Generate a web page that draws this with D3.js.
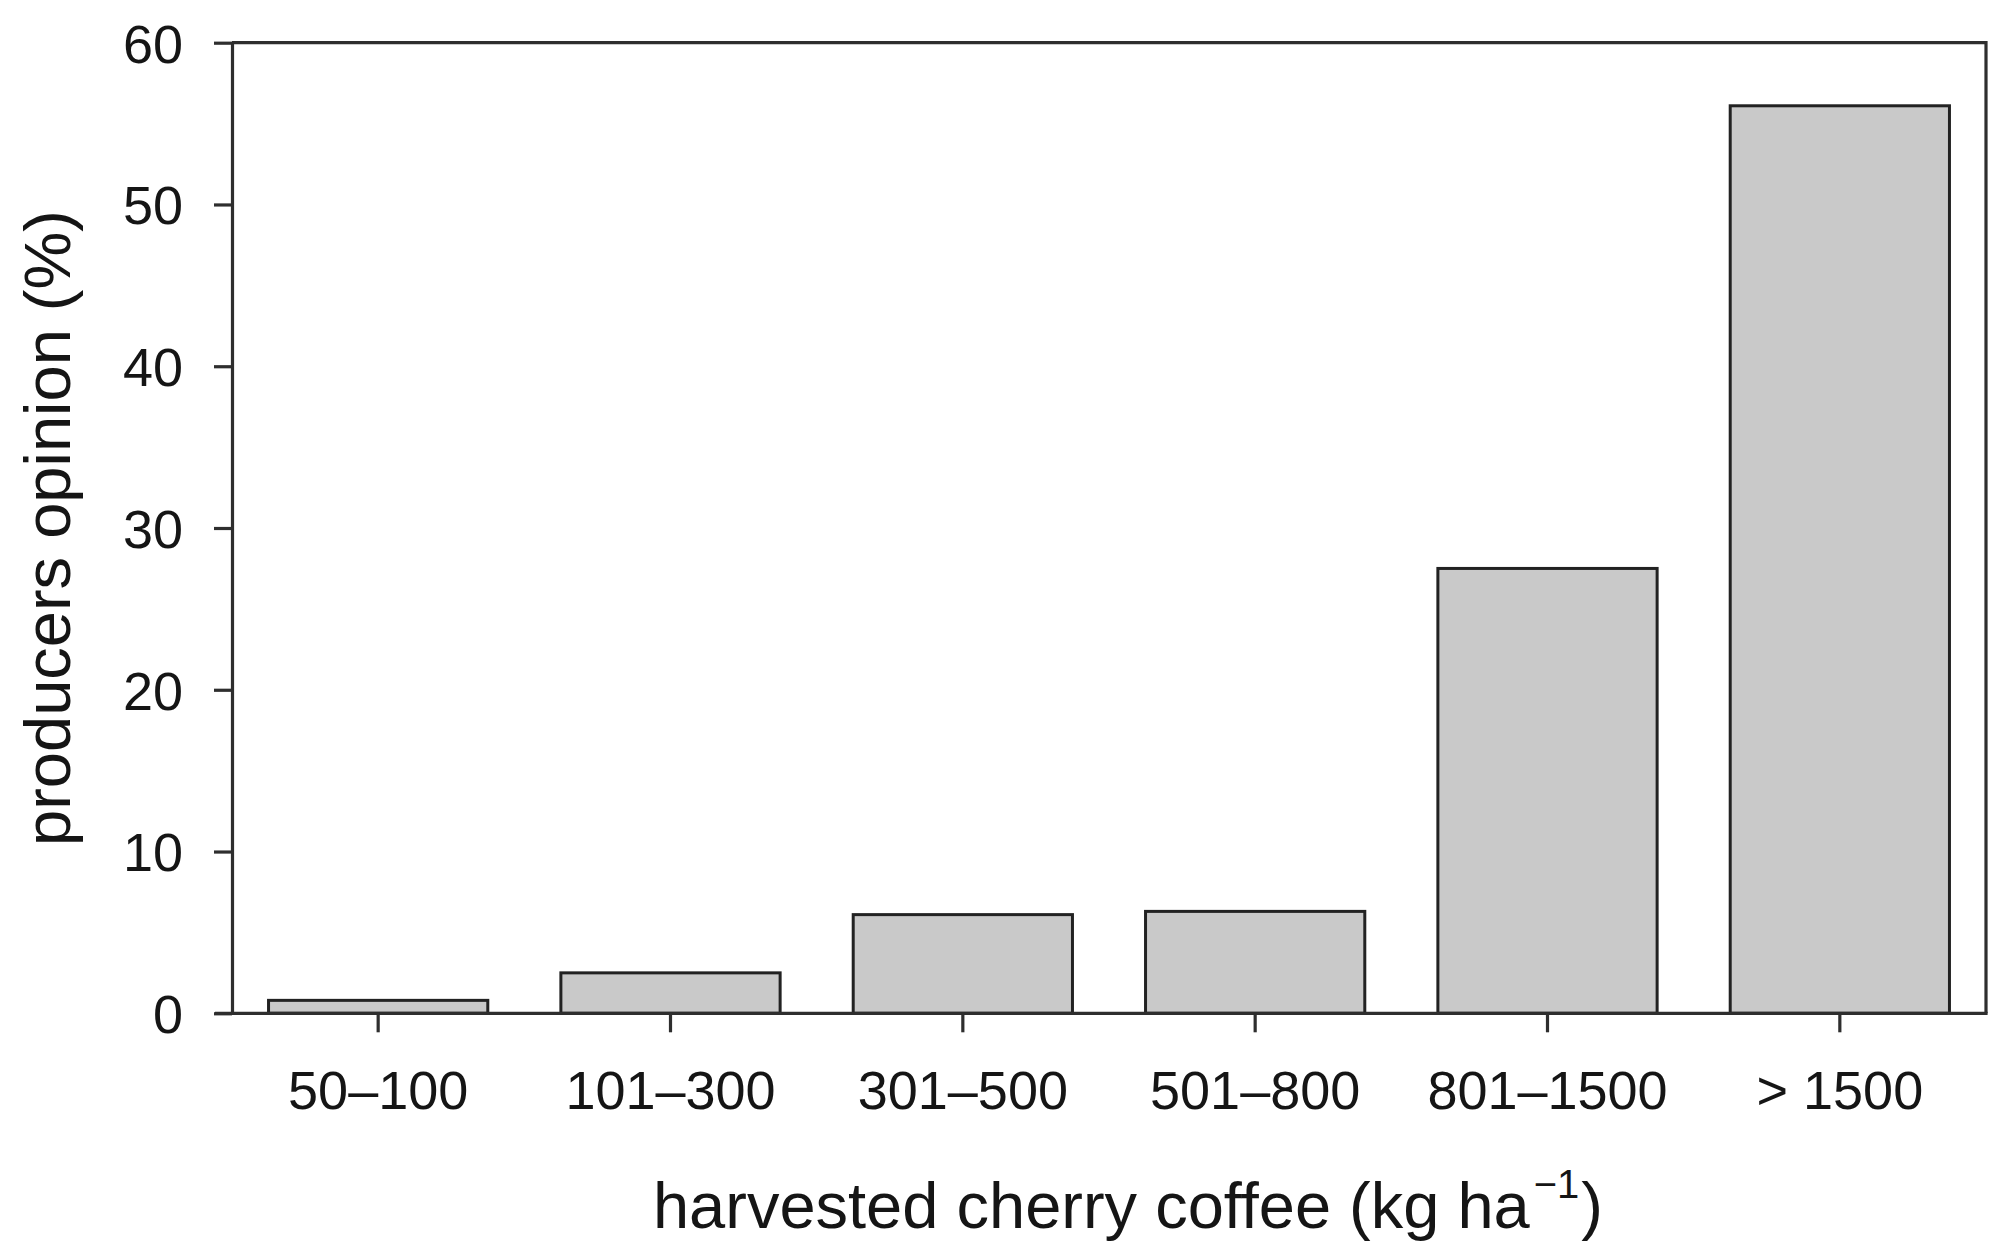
<!DOCTYPE html>
<html>
<head>
<meta charset="utf-8">
<script src="https://cdn.jsdelivr.net/npm/d3@7"></script>
<style>
  html, body { margin: 0; padding: 0; background: #fff; }
  svg { display: block; }
  text { font-family: "Liberation Sans", Arial, sans-serif; fill: #151515; }
</style>
</head>
<body>
<svg id="chart" width="2015" height="1259"></svg>
<script>
const categories = ["50–100", "101–300", "301–500", "501–800", "801–1500", "> 1500"];
const values = [0.8, 2.5, 6.1, 6.3, 27.5, 56.1];
const yTicks = [0, 10, 20, 30, 40, 50, 60];
const yTitle = "producers opinion (%)";
const xTitleMain = "harvested cherry coffee (kg ha";
const xTitleSup = "−1";
const xTitleEnd = ")";

(function () {
  const svg = d3.select("#chart");
  const pLeft = 232, pRight = 1986, pTop = 42.7, pBottom = 1013.3;
  const axisColor = "#2e2e2e";

  const x = d3.scaleBand().domain(categories).range([pLeft, pRight])
    .paddingInner(0.25).paddingOuter(0.125);
  const y = d3.scaleLinear().domain([0, 60]).range([pBottom, pTop]);

  // bars
  svg.append("g").selectAll("rect")
    .data(values)
    .join("rect")
    .attr("x", (d, i) => x(categories[i]))
    .attr("width", x.bandwidth())
    .attr("y", d => y(d))
    .attr("height", d => y(0) - y(d))
    .attr("fill", "#c9c9c9")
    .attr("stroke", "#222")
    .attr("stroke-width", 3);

  // frame top & right
  svg.append("line").attr("x1", pLeft).attr("x2", pRight).attr("y1", y(60)).attr("y2", y(60))
    .attr("stroke", axisColor).attr("stroke-width", 3.2);
  svg.append("line").attr("x1", pRight).attr("x2", pRight).attr("y1", y(60) - 1.6).attr("y2", y(0))
    .attr("stroke", axisColor).attr("stroke-width", 3.2);

  // y axis
  const yAxis = svg.append("g").attr("transform", `translate(${pLeft},0)`)
    .call(d3.axisLeft(y).tickValues(yTicks).tickSizeInner(18).tickSizeOuter(0).tickPadding(31));
  yAxis.selectAll("path, line").attr("stroke", axisColor).attr("stroke-width", 3.2);
  yAxis.selectAll("text").attr("font-size", 54).attr("dy", "0.36em")
    .style("font-family", "'Liberation Sans', Arial, sans-serif").attr("fill", "#151515");

  // x axis
  const xAxis = svg.append("g").attr("transform", `translate(0,${pBottom})`)
    .call(d3.axisBottom(x).tickSizeInner(19).tickSizeOuter(0).tickPadding(38));
  xAxis.selectAll("path, line").attr("stroke", axisColor).attr("stroke-width", 3.2);
  xAxis.selectAll("path").attr("d", `M${pLeft - 17},0H${pRight + 1.6}`);
  xAxis.selectAll("text").attr("font-size", 54)
    .style("font-family", "'Liberation Sans', Arial, sans-serif").attr("fill", "#151515");

  // y title
  svg.append("text")
    .attr("transform", `translate(70,${(pTop + pBottom) / 2}) rotate(-90)`)
    .attr("text-anchor", "middle")
    .attr("font-size", 65)
    .text(yTitle);

  // x title
  const xt = svg.append("text")
    .attr("x", 1128).attr("y", 1228)
    .attr("text-anchor", "middle")
    .attr("font-size", 65);
  xt.append("tspan").text(xTitleMain);
  xt.append("tspan").attr("font-size", 40).attr("dy", -30).attr("dx", 4).text(xTitleSup);
  xt.append("tspan").attr("dy", 30).attr("dx", 2).text(xTitleEnd);
})();
</script>
</body>
</html>
